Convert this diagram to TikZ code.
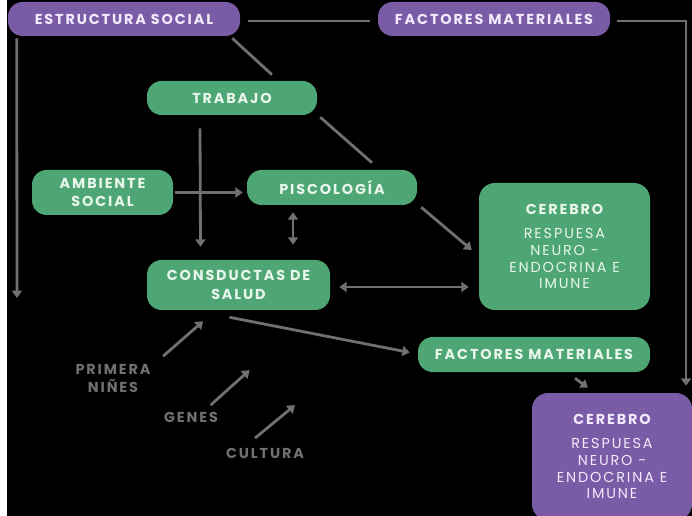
\documentclass[tikz,border=0pt]{standalone}
\usepackage{fontspec}
\newfontfamily\popfont[LetterSpace=13]{Poppins}
\usetikzlibrary{arrows.meta,calc}

\definecolor{verde}{RGB}{78,166,116}
\definecolor{morado}{RGB}{122,92,166}
\definecolor{linea}{RGB}{112,112,112}
\definecolor{txtverde}{RGB}{232,246,236}
\definecolor{txtmorado}{RGB}{242,234,252}
\definecolor{gris}{RGB}{112,112,112}

\begin{document}
\begin{tikzpicture}[x=0.75pt,y=0.75pt,yscale=-1,xscale=1,
	caja/.style={rectangle,rounded corners=11pt,inner sep=0pt,align=center,
		font=\popfont\bfseries\fontsize{10.8}{14}\selectfont},
	cajaverde/.style={caja,fill=verde,text=txtverde},
	cajamorada/.style={caja,fill=morado,text=txtmorado},
	cerebro/.style={rounded corners=12pt,
		font=\popfont\fontsize{10.8}{12.5}\selectfont},
	etiqueta/.style={align=center,text=gris,
		font=\popfont\bfseries\fontsize{10.8}{13.5}\selectfont},
	linea/.style={draw=linea,line width=2.1pt},
	flecha/.style={linea,-{Triangle[length=5.5pt,width=7.5pt]}},
	dflecha/.style={linea,{Triangle[length=5.5pt,width=7.5pt]}-{Triangle[length=5.5pt,width=7.5pt]}}]
	
	%set diagram area 692 x 516
	\path[use as bounding box,clip] (0,0) rectangle (692,516);
	\fill[white] (0,0) rectangle (7,516);
	\fill[black] (7,0) rectangle (692,516);
	
	% Text Node
	\node[cajamorada,minimum width=174pt,minimum height=25.5pt] (estr) at (124,19) {ESTRUCTURA SOCIAL};
	% Text Node
	\node[cajamorada,minimum width=174pt,minimum height=25.5pt] (fmarriba) at (494,19) {FACTORES MATERIALES};
	% Text Node
	\node[cajaverde,minimum width=127.5pt,minimum height=25.5pt] (trab) at (232,98) {TRABAJO};
	% Text Node
	\node[cajaverde,minimum width=105.75pt,minimum height=33.75pt] (amb) at (102.5,192.5) {AMBIENTE\\SOCIAL};
	% Text Node
	\node[cajaverde,minimum width=127.5pt,minimum height=26.25pt] (pisc) at (332,187.5) {PISCOLOGÍA};
	% Text Node
	\node[cajaverde,minimum width=137.25pt,minimum height=37.5pt] (cons) at (238.5,285) {CONSDUCTAS DE\\SALUD};
	% Text Node
	\node[cajaverde,cerebro,minimum width=128.25pt,minimum height=95.25pt] (cer1) at (564.5,246.5)
		{{\bfseries CEREBRO}\\[6pt]RESPUESA\\NEURO -\\ENDOCRINA E\\IMUNE};
	% Text Node
	\node[cajaverde,minimum width=174pt,minimum height=26.25pt] (fmabajo) at (534,354.5) {FACTORES MATERIALES};
	% Text Node
	\node[cajamorada,cerebro,minimum width=120pt,minimum height=95.25pt] (cer2) at (612,456.5)
		{{\bfseries CEREBRO}\\[6pt]RESPUESA\\NEURO -\\ENDOCRINA E\\IMUNE};
	% Text Node
	\node[etiqueta] (prim) at (113,378) {PRIMERA\\NIÑES};
	% Text Node
	\node[etiqueta] (genes) at (191,417) {GENES};
	% Text Node
	\node[etiqueta] (cult) at (265,453) {CULTURA};
	
	%Straight Lines
	\draw[linea] ($(estr.east)+(8,2)$) -- ($(fmarriba.west)+(-8,2)$);
	\coordinate (esq) at (686,21);
	\draw[flecha] ($(fmarriba.east)+(7,2)$) -- (esq) -- ($(esq |- cer2.north)+(0,-7)$);
	\coordinate (izq) at (17,298);
	\draw[flecha] ($(estr.south west)+(9,2)$) -- (izq);
	\draw[linea] ($(estr.south east)+(-8,2)$) -- ($(trab.north)+(40,-6)$);
	\draw[linea] ($(trab.south east)+(3,2)$) -- ($(pisc.north)+(40,-7)$);
	\draw[flecha] ($(trab.south)+(-32,13)$) -- ($(cons.north)+(-38,-13)$);
	\draw[flecha] ($(amb.east)+(2,0)$) -- ($(pisc.west |- amb.east)+(-4,0)$);
	\draw[dflecha] ($(pisc.south)+(-39,7)$) -- ($(cons.north)+(54.5,-15)$);
	\draw[dflecha] ($(cons.east)+(9,2)$) -- ($(cons.east -| cer1.west)+(-10,2)$);
	\draw[flecha] ($(pisc.south east)+(4,2)$) -- ($(cer1.west)+(-7,3.5)$);
	\draw[flecha] ($(cons.south)+(-9,7)$) -- ($(fmabajo.west)+(-8,-2)$);
	\draw[flecha] ($(fmabajo.south)+(41,6)$) -- ($(cer2.north)+(-24,-5)$);
	
	%Arrows from labels
	\draw[flecha] ($(prim.north east)+(8,-3)$) -- ++(40,-35);
	\draw[flecha] ($(genes.north east)+(-12,-2)$) -- ++(39,-35);
	\draw[flecha] ($(cult.north)+(-10,-5)$) -- ++(40,-33);
	
\end{tikzpicture}
\end{document}
